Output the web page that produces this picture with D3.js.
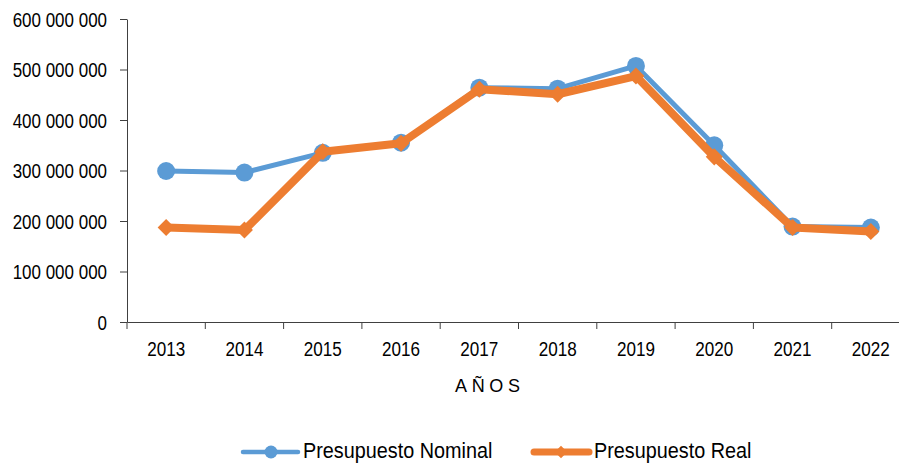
<!DOCTYPE html>
<html>
<head>
<meta charset="utf-8">
<script src="https://cdn.jsdelivr.net/npm/d3@7"></script>
<style>
  body { margin: 0; background: #fff; }
  svg text { font-family: "Liberation Sans", Arial, sans-serif; fill: #000; }
</style>
</head>
<body>
<script>
const years = ["2013", "2014", "2015", "2016", "2017", "2018", "2019", "2020", "2021", "2022"];
const nominal = [299e6, 296e6, 335e6, 355e6, 464e6, 462e6, 507e6, 350e6, 189e6, 187e6];
const real = [187e6, 182e6, 337e6, 354e6, 461e6, 451e6, 487e6, 327e6, 187e6, 179e6];
const yTicks = [0, 100e6, 200e6, 300e6, 400e6, 500e6, 600e6];

const width = 899, height = 464;
const plotLeft = 127, plotTop = 19, plotBottom = 322, plotRight = 910;

const svg = d3.select("body").append("svg")
    .attr("width", width)
    .attr("height", height);

const x = d3.scaleBand().domain(years).range([plotLeft, plotRight]);
const y = d3.scaleLinear().domain([0, 600e6]).range([plotBottom, plotTop]);

const fmt = v => d3.format(",")(v).replace(/,/g, " ");

// the original uses a narrow face; squeeze the regular one to match
function narrow(sel, f) {
    sel.each(function(){
        const len = this.getComputedTextLength();
        d3.select(this).attr("textLength", len * f).attr("lengthAdjust", "spacingAndGlyphs");
    });
}

// y axis
const yAxis = svg.append("g")
    .attr("transform", `translate(${plotLeft},0)`)
    .call(d3.axisLeft(y).tickValues(yTicks).tickFormat(fmt).tickSize(7).tickSizeOuter(0));
yAxis.selectAll("text").attr("font-size", 19.5).attr("x", -20).attr("dy", "0.36em");
narrow(yAxis.selectAll("text"), 0.87);

// x axis
const xAxis = svg.append("g")
    .attr("transform", `translate(0,${plotBottom})`)
    .call(d3.axisBottom(x).tickSize(0).tickSizeOuter(0));
xAxis.selectAll("text").attr("font-size", 19.5).attr("dy", "0").attr("y", 34);
narrow(xAxis.selectAll("text"), 0.876);
// tick marks at category boundaries
xAxis.selectAll(".bound")
    .data(years)
    .enter()
    .append("line")
    .attr("x1", d => x(d))
    .attr("x2", d => x(d))
    .attr("y1", 0)
    .attr("y2", 7);

svg.selectAll(".domain, .tick line").attr("stroke", "#404040").attr("stroke-width", 1);
xAxis.selectAll("line").attr("stroke", "#404040");

svg.append("text")
    .attr("x", 455)
    .attr("y", 392)
    .attr("font-size", 18)
    .attr("textLength", 65)
    .attr("lengthAdjust", "spacing")
    .text("AÑOS");

const cx = d => x(d) + x.bandwidth() / 2;
const line = d3.line().x((d, i) => cx(years[i])).y(d => y(d));

// nominal series
svg.append("path")
    .datum(nominal)
    .attr("d", line)
    .attr("fill", "none")
    .attr("stroke", "#5B9BD5")
    .attr("stroke-width", 5)
    .attr("stroke-linejoin", "round");

svg.append("g").selectAll("circle")
    .data(nominal)
    .enter()
    .append("circle")
    .attr("cx", (d, i) => cx(years[i]))
    .attr("cy", d => y(d))
    .attr("r", 9)
    .attr("fill", "#5B9BD5");

// real series
svg.append("path")
    .datum(real)
    .attr("d", line)
    .attr("fill", "none")
    .attr("stroke", "#ED7D31")
    .attr("stroke-width", 8)
    .attr("stroke-linejoin", "round");

const diamond = d3.symbol().type(d3.symbolDiamond2).size(185);
svg.append("g").selectAll("path")
    .data(real)
    .enter()
    .append("path")
    .attr("d", diamond)
    .attr("transform", (d, i) => `translate(${cx(years[i])},${y(d)})`)
    .attr("fill", "#ED7D31");

// legend
const legend = [
    { name: "Presupuesto Nominal", colour: "#5B9BD5", x: 242, w: 4.5, marker: "circle" },
    { name: "Presupuesto Real", colour: "#ED7D31", x: 533, w: 7, marker: "diamond" }
];
const lg = svg.append("g").selectAll("g")
    .data(legend)
    .enter()
    .append("g")
    .attr("transform", d => `translate(${d.x},452)`);
lg.append("line")
    .attr("x1", 1).attr("x2", 56)
    .attr("stroke", d => d.colour)
    .attr("stroke-width", d => d.w)
    .attr("stroke-linecap", "round");
lg.filter(d => d.marker === "circle").append("circle")
    .attr("cx", 29).attr("r", 6.5)
    .attr("fill", d => d.colour);
lg.filter(d => d.marker === "diamond").append("path")
    .attr("d", d3.symbol().type(d3.symbolDiamond2).size(100))
    .attr("transform", "translate(28,0)")
    .attr("fill", d => d.colour);
const lgText = lg.append("text")
    .attr("x", 61)
    .attr("y", 6)
    .attr("font-size", 22.5)
    .text(d => d.name);
narrow(lgText, 0.88);
</script>
</body>
</html>
